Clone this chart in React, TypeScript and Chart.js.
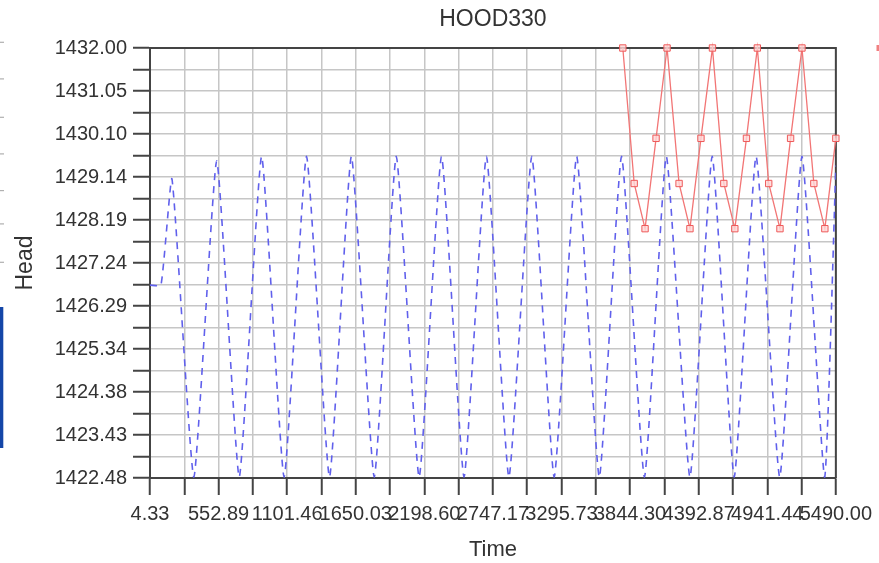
import React, { useEffect, useRef } from "react";
import { Chart, registerables } from "chart.js";

Chart.register(...registerables);

const chartTitle = "HOOD330";
const xAxisTitle = "Time";
const yAxisTitle = "Head";

// Simulated head (blue dashed)
const blueTimes = [
  4.33, 92, 180, 355, 538, 718, 897, 1077, 1256, 1440, 1615, 1798, 1974, 2157, 2336, 2516,
  2695, 2875, 3058, 3237, 3417, 3598, 3776, 3959, 4134, 4323, 4501, 4677, 4852, 5041, 5219,
  5400, 5490,
];
const blueHeads = [
  1426.75, 1426.75, 1429.1, 1422.5, 1429.5, 1422.5, 1429.6, 1422.5, 1429.6, 1422.5, 1429.6,
  1422.5, 1429.6, 1422.5, 1429.6, 1422.5, 1429.6, 1422.5, 1429.6, 1422.5, 1429.6, 1422.5,
  1429.6, 1422.5, 1429.6, 1422.5, 1429.6, 1422.5, 1429.6, 1422.5, 1429.6, 1422.5, 1429.4,
];

// Observed head (red squares)
const redTimes = [
  3786, 3877, 3964, 4052, 4140, 4236, 4323, 4411, 4503, 4594, 4682, 4775, 4862, 4953, 5043,
  5128, 5219, 5314, 5402, 5490,
];
const redHeads = [
  1432, 1429, 1428, 1430, 1432, 1429, 1428, 1430, 1432, 1429, 1428, 1430, 1432, 1429, 1428,
  1430, 1432, 1429, 1428, 1430,
];

const xTicks = [
  4.33, 278.61, 552.89, 827.18, 1101.46, 1375.75, 1650.03, 1924.31, 2198.6, 2472.88, 2747.17,
  3021.45, 3295.73, 3570.02, 3844.3, 4118.58, 4392.87, 4667.15, 4941.44, 5215.72, 5490.0,
];
const xTickLabels = [
  "4.33", "552.89", "1101.46", "1650.03", "2198.60", "2747.17", "3295.73", "3844.30",
  "4392.87", "4941.44", "5490.00",
];
const yTicks = [
  1422.48, 1422.956, 1423.432, 1423.908, 1424.384, 1424.86, 1425.336, 1425.812, 1426.288,
  1426.764, 1427.24, 1427.716, 1428.192, 1428.668, 1429.144, 1429.62, 1430.096, 1430.572,
  1431.048, 1431.524, 1432.0,
];
const yTickLabels = [
  "1422.48", "1423.43", "1424.38", "1425.34", "1426.29", "1427.24", "1428.19", "1429.14",
  "1430.10", "1431.05", "1432.00",
];

const FONT = "'Liberation Sans', Arial, sans-serif";
const TEXT = "#333333";

const framePlugin = {
  id: "frame",
  beforeDatasetsDraw(chart: any) {
    const { ctx, chartArea } = chart;
    ctx.save();
    ctx.strokeStyle = "#444444";
    ctx.lineWidth = 2;
    ctx.beginPath();
    ctx.moveTo(chartArea.left, chartArea.top);
    ctx.lineTo(chartArea.right, chartArea.top);
    ctx.lineTo(chartArea.right, chartArea.bottom);
    ctx.stroke();
    ctx.restore();
  },
  afterDraw(chart: any) {
    const { ctx } = chart;
    ctx.save();
    // cropping artifacts at the page edges
    ctx.fillStyle = "#1446a8";
    ctx.fillRect(0, 307, 3.3, 141);
    ctx.fillStyle = "#b0b0b0";
    [41.7, 78.3, 116.7, 153.3, 190, 223.3, 261.7].forEach((y) => ctx.fillRect(0, y, 4, 1.2));
    ctx.fillStyle = "#f08080";
    ctx.fillRect(876.5, 45, 2.5, 6);
    ctx.restore();
  },
};

export default function App() {
  const ref = useRef<HTMLCanvasElement>(null);

  useEffect(() => {
    const canvas = ref.current;
    if (!canvas) return;
    const chart = new Chart(canvas, {
      type: "line",
      data: {
        datasets: [
          {
            label: "Simulated",
            data: blueTimes.map((t, i) => ({ x: t, y: blueHeads[i] })),
            borderColor: "#6060ec",
            borderWidth: 1.6,
            borderDash: [7, 6],
            pointRadius: 0,
            tension: 0.15,
            fill: false,
          },
          {
            label: "Observed",
            data: redTimes.map((t, i) => ({ x: t, y: redHeads[i] })),
            borderColor: "#f27575",
            borderWidth: 1.3,
            pointStyle: "rect",
            pointRadius: 4.5,
            pointBorderColor: "#ee5a5a",
            pointBackgroundColor: "rgba(255,215,215,0.8)",
            pointBorderWidth: 1,
            tension: 0,
            fill: false,
            clip: false as any,
          },
        ],
      },
      options: {
        responsive: false,
        animation: false,
        layout: { padding: { left: 0, right: 41, top: 0, bottom: 0 } },
        plugins: {
          legend: { display: false },
          tooltip: { enabled: false },
          title: {
            display: true,
            text: chartTitle,
            fullSize: false,
            color: TEXT,
            font: { family: FONT, size: 23, weight: "normal" },
            padding: { top: 6, bottom: 14.4 },
          },
        },
        scales: {
          x: {
            type: "linear",
            min: 4.33,
            max: 5490,
            afterBuildTicks: (scale: any) => {
              scale.ticks = xTicks.map((v) => ({ value: v }));
            },
            afterFit: (scale: any) => {
              scale.height = 85;
            },
            ticks: {
              autoSkip: false,
              maxRotation: 0,
              minRotation: 0,
              padding: 7,
              color: TEXT,
              font: { family: FONT, size: 20 },
              callback: (_v: any, index: number) =>
                index % 2 === 0 ? xTickLabels[index / 2] : "",
            },
            grid: {
              color: "#c6c6c6",
              lineWidth: 1.5,
              drawTicks: true,
              tickLength: 17,
              tickColor: "#444444",
              tickWidth: 2,
            },
            border: { color: "#444444", width: 2 },
            title: {
              display: true,
              text: xAxisTitle,
              color: TEXT,
              font: { family: FONT, size: 22 },
              padding: { top: 0, bottom: 0 },
            },
          },
          y: {
            type: "linear",
            min: 1422.48,
            max: 1432.0,
            afterBuildTicks: (scale: any) => {
              scale.ticks = yTicks.map((v) => ({ value: v }));
            },
            afterFit: (scale: any) => {
              scale.width = 150;
            },
            ticks: {
              autoSkip: false,
              padding: 6,
              color: TEXT,
              font: { family: FONT, size: 20 },
              callback: (_v: any, index: number) =>
                index % 2 === 0 ? yTickLabels[index / 2] : "",
            },
            grid: {
              color: "#c6c6c6",
              lineWidth: 1.5,
              drawTicks: true,
              tickLength: 17,
              tickColor: "#444444",
              tickWidth: 2,
            },
            border: { color: "#444444", width: 2 },
            title: {
              display: true,
              text: yAxisTitle,
              color: TEXT,
              font: { family: FONT, size: 23 },
              padding: { top: 12, bottom: 0 },
            },
          },
        },
      },
      plugins: [framePlugin],
    } as any);
    return () => chart.destroy();
  }, []);

  return (
    <div style={{ position: "absolute", left: 0, top: 0, width: 879, height: 563, background: "#fff" }}>
      <canvas ref={ref} width={879} height={563} style={{ width: 879, height: 563 }} />
    </div>
  );
}
